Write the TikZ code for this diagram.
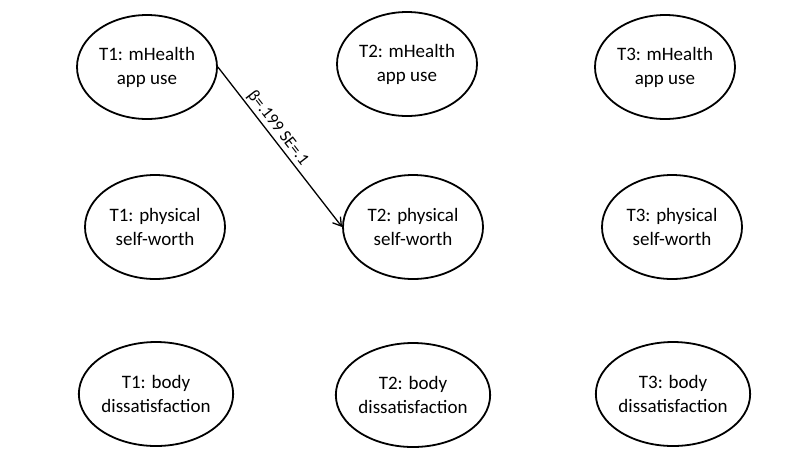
\documentclass[tikz,border=0pt]{standalone}
\usepackage{fontspec}
\setmainfont{Carlito}
\usetikzlibrary{shapes.geometric,arrows.meta}
\begin{document}
\begin{tikzpicture}[x=1pt,y=-1pt,
  var/.style={draw, ellipse, line width=1.8pt, minimum width=140pt, minimum height=104pt, inner sep=0pt,
    align=center, font=\fontsize{19}{24}\selectfont},
  path/.style={line width=1.3pt, -{Straight Barb[length=8pt,width=10pt,line width=1.3pt]}},
  lbl/.style={font=\fontsize{17}{20}\selectfont, sloped, above, inner sep=2pt, pos=0.42}]
\useasboundingbox (0,0) rectangle (800,451);
\node[var] (m1) at (147,67) {T1: mHealth\\app use};
\node[var] (m2) at (407,64) {T2: mHealth\\app use};
\node[var] (m3) at (665,67) {T3: mHealth\\app use};
\node[var] (p1) at (155,227) {T1: physical\\self-worth};
\node[var] (p2) at (413,227) {T2: physical\\self-worth};
\node[var] (p3) at (672,227) {T3: physical\\self-worth};
\node[var] (b1) at (156,394) {T1: body\\dissatisfaction};
\node[var] (b2) at (413,395) {T2: body\\dissatisfaction};
\node[var] (b3) at (673,394) {T3: body\\dissatisfaction};
\draw[path] (m1.east) -- node[lbl] {β=.199 SE=.1} (p2.west);
\end{tikzpicture}
\end{document}
